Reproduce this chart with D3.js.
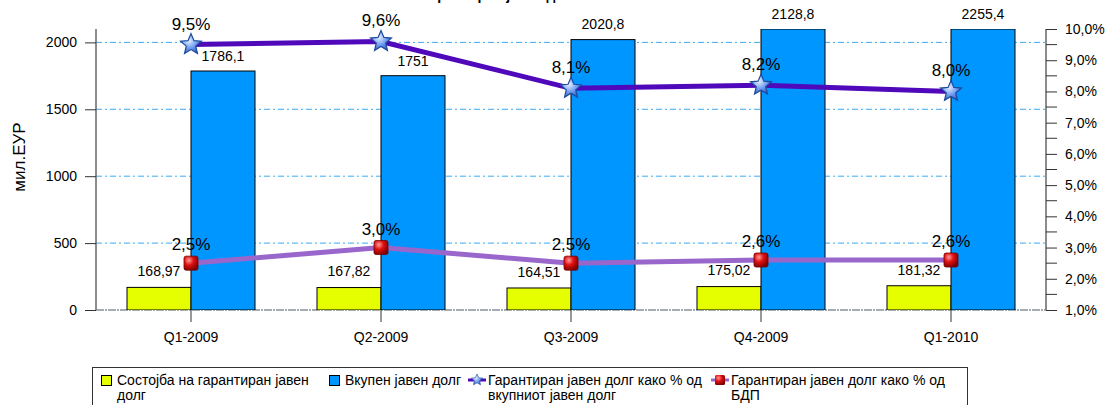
<!DOCTYPE html>
<html>
<head>
<meta charset="utf-8">
<script src="https://cdn.jsdelivr.net/npm/d3@7"></script>
<style>
  body { margin: 0; background: #fff; }
  svg { display: block; font-family: Arial, "Liberation Sans", sans-serif; }
</style>
</head>
<body>
<div id="chart"></div>
<script>
// податоци
const quarters = ["Q1-2009", "Q2-2009", "Q3-2009", "Q4-2009", "Q1-2010"];
const guaranteed = [168.97, 167.82, 164.51, 175.02, 181.32];
const totalDebt = [1786.1, 1751, 2020.8, 2128.8, 2255.4];
const pctOfTotal = [9.5, 9.6, 8.1, 8.2, 8.0];
const pctOfGdp = [2.5, 3.0, 2.5, 2.6, 2.6];
const leftTicks = [0, 500, 1000, 1500, 2000];
const rightTicks = [1, 2, 3, 4, 5, 6, 7, 8, 9, 10];

const width = 1106, height = 405;
const mLeft = 96, mRight = 1046, mTop = 29, mBottom = 310;

const svg = d3.select("#chart").append("svg")
    .attr("width", width)
    .attr("height", height);

const defs = svg.append("defs");
const sg = defs.append("radialGradient").attr("id", "starGrad").attr("cx", "40%").attr("cy", "35%").attr("r", "70%");
sg.append("stop").attr("offset", "0%").attr("stop-color", "#e8f0ff");
sg.append("stop").attr("offset", "55%").attr("stop-color", "#6f9cf0");
sg.append("stop").attr("offset", "100%").attr("stop-color", "#2857b8");
const rg = defs.append("radialGradient").attr("id", "redGrad").attr("cx", "35%").attr("cy", "30%").attr("r", "75%");
rg.append("stop").attr("offset", "0%").attr("stop-color", "#ff9a9a");
rg.append("stop").attr("offset", "45%").attr("stop-color", "#e01010");
rg.append("stop").attr("offset", "100%").attr("stop-color", "#7a0000");
defs.append("clipPath").attr("id", "plotClip")
    .append("rect").attr("x", mLeft).attr("y", mTop).attr("width", mRight - mLeft).attr("height", mBottom - mTop);

// скали
const x = d3.scaleBand().domain(quarters).range([mLeft, mRight]).padding(0);
const xSub = d3.scaleBand().domain(["g", "t"]).range([-64, 64]);
const y = d3.scaleLinear().domain([0, 2100]).range([mBottom, mTop]);
const yR = d3.scaleLinear().domain([1, 10]).range([mBottom, mTop]);
const cx = q => x(q) + x.bandwidth() / 2;
const fmt = v => String(v).replace(".", ",");
const fmtP = v => v.toFixed(1).replace(".", ",") + "%";

// мрежа
svg.append("g").selectAll("line")
    .data(leftTicks.filter(d => d > 0))
    .join("line")
    .attr("x1", mLeft).attr("x2", mRight)
    .attr("y1", d => y(d)).attr("y2", d => y(d))
    .attr("stroke", "#3aaaf5").attr("stroke-width", 1)
    .attr("stroke-dasharray", "6,3,2,3");
svg.append("line")
    .attr("x1", mLeft).attr("x2", mRight).attr("y1", y(0)).attr("y2", y(0))
    .attr("stroke", "#4a5a6a").attr("stroke-width", 1.2)
    .attr("stroke-dasharray", "8,1,2,1");

// столбови
const plot = svg.append("g").attr("clip-path", "url(#plotClip)");
plot.selectAll("rect.g")
    .data(guaranteed)
    .join("rect").attr("class", "g")
    .attr("x", (d, i) => cx(quarters[i]) + xSub("g"))
    .attr("width", xSub.bandwidth())
    .attr("y", d => y(d)).attr("height", d => y(0) - y(d))
    .attr("fill", "#e6ff00").attr("stroke", "#000").attr("stroke-width", 1);
plot.selectAll("rect.t")
    .data(totalDebt)
    .join("rect").attr("class", "t")
    .attr("x", (d, i) => cx(quarters[i]) + xSub("t"))
    .attr("width", xSub.bandwidth())
    .attr("y", d => y(Math.min(d, 2100))).attr("height", d => y(0) - y(Math.min(d, 2100)))
    .attr("fill", "#0096ff").attr("stroke", "#000").attr("stroke-width", 1);

// оски
const yAxis = svg.append("g").attr("transform", `translate(${mLeft},0)`)
    .call(d3.axisLeft(y).tickValues(leftTicks).tickSize(11).tickPadding(8).tickFormat(d => d));
const yAxisR = svg.append("g").attr("transform", `translate(${mRight},0)`)
    .call(d3.axisRight(yR).tickValues(rightTicks).tickSize(11).tickPadding(8).tickFormat(fmtP));
yAxisR.append("g").selectAll("line")
    .data(d3.range(1.5, 10, 1))
    .join("line")
    .attr("x1", 0).attr("x2", 11).attr("y1", d => yR(d)).attr("y2", d => yR(d))
    .attr("stroke", "#333");
const xAxis = svg.append("g").attr("transform", `translate(0,${mBottom})`)
    .call(d3.axisBottom(x).tickSize(12).tickPadding(10));
xAxis.select(".domain").remove();
[yAxis, yAxisR].forEach(a => a.select(".domain").attr("d", `M0,${mTop}V${mBottom}`).attr("stroke", "#666").attr("stroke-width", 1.5));
[yAxis, yAxisR, xAxis].forEach(a => {
    a.selectAll(".tick line").attr("stroke", "#333");
    a.selectAll("text").attr("fill", "#000").style("font-size", "14px").style("font-family", "Arial, 'Liberation Sans', sans-serif");
});

svg.append("text")
    .attr("transform", `translate(25,157) rotate(-90)`)
    .attr("text-anchor", "middle")
    .style("font-size", "17px")
    .text("мил.ЕУР");

// наслов (отсечен горе)
svg.append("text")
    .attr("x", 500).attr("y", 0)
    .attr("text-anchor", "middle")
    .style("font-size", "14px").style("font-weight", "bold")
    .text("Гарантиран јавен долг");

// ознаки на столбовите
svg.append("g").selectAll("text")
    .data(guaranteed)
    .join("text")
    .attr("x", (d, i) => cx(quarters[i]) + xSub("g") + xSub.bandwidth() / 2)
    .attr("y", d => y(d) - 16)
    .attr("dy", "0.35em").attr("text-anchor", "middle")
    .style("font-size", "14px")
    .text(fmt);
svg.append("g").selectAll("text")
    .data(totalDebt)
    .join("text")
    .attr("x", (d, i) => cx(quarters[i]) + xSub("t") + xSub.bandwidth() / 2)
    .attr("y", d => y(Math.min(d, 2100)) - 15)
    .attr("dy", "0.35em").attr("text-anchor", "middle")
    .style("font-size", "14px")
    .text(fmt);

// линии
const starPath = (r1, r2) => {
    let p = "";
    for (let k = 0; k < 10; k++) {
        const r = k % 2 ? r2 : r1;
        const a = -Math.PI / 2 + k * Math.PI / 5;
        p += (k ? "L" : "M") + (r * Math.cos(a)).toFixed(2) + "," + (r * Math.sin(a)).toFixed(2);
    }
    return p + "Z";
};
const line = d3.line().x((d, i) => cx(quarters[i])).y(d => yR(d));

svg.append("path").datum(pctOfGdp)
    .attr("d", line).attr("fill", "none")
    .attr("stroke", "#9966cc").attr("stroke-width", 5);
svg.append("path").datum(pctOfTotal)
    .attr("d", line).attr("fill", "none")
    .attr("stroke", "#5008bb").attr("stroke-width", 5);

svg.append("g").selectAll("path")
    .data(pctOfTotal)
    .join("path")
    .attr("transform", (d, i) => `translate(${cx(quarters[i])},${yR(d)})`)
    .attr("d", starPath(11, 5))
    .attr("fill", "url(#starGrad)").attr("stroke", "#1d4a9e").attr("stroke-width", 1.2);
svg.append("g").selectAll("rect")
    .data(pctOfGdp)
    .join("rect")
    .attr("x", (d, i) => cx(quarters[i]) - 7).attr("y", d => yR(d) - 7)
    .attr("width", 14).attr("height", 14).attr("rx", 2)
    .attr("fill", "url(#redGrad)").attr("stroke", "#700").attr("stroke-width", 0.8);

svg.append("g").selectAll("text")
    .data(pctOfTotal)
    .join("text")
    .attr("x", (d, i) => cx(quarters[i]))
    .attr("y", d => yR(d) - 21)
    .attr("dy", "0.35em").attr("text-anchor", "middle")
    .style("font-size", "17px")
    .text(fmtP);
svg.append("g").selectAll("text")
    .data(pctOfGdp)
    .join("text")
    .attr("x", (d, i) => cx(quarters[i]))
    .attr("y", d => yR(d) - 19)
    .attr("dy", "0.35em").attr("text-anchor", "middle")
    .style("font-size", "17px")
    .text(fmtP);

// легенда
const legend = svg.append("g");
legend.append("rect")
    .attr("x", 92.5).attr("y", 367.5).attr("width", 875).attr("height", 50)
    .attr("fill", "#fff").attr("stroke", "#333");
const items = [
    { x: 101, type: "box", color: "#e6ff00", lines: ["Состојба на гарантиран јавен", "долг"] },
    { x: 329, type: "box", color: "#0096ff", lines: ["Вкупен јавен долг"] },
    { x: 468, type: "star", color: "#5008bb", lines: ["Гарантиран јавен долг како % од", "вкупниот јавен долг"] },
    { x: 711, type: "red", color: "#9966cc", lines: ["Гарантиран јавен долг како % од", "БДП"] }
];
items.forEach(it => {
    const g = legend.append("g");
    let tx;
    if (it.type === "box") {
        g.append("rect").attr("x", it.x + 0.5).attr("y", 375.5).attr("width", 10).attr("height", 10)
            .attr("fill", it.color).attr("stroke", "#000");
        tx = it.x + 16;
    } else {
        g.append("line").attr("x1", it.x).attr("x2", it.x + 18).attr("y1", 380).attr("y2", 380)
            .attr("stroke", it.color).attr("stroke-width", 3);
        if (it.type === "star") {
            g.append("path").attr("transform", `translate(${it.x + 9},380)`).attr("d", starPath(6, 2.8))
                .attr("fill", "url(#starGrad)").attr("stroke", "#1d4a9e").attr("stroke-width", 0.6);
        } else {
            g.append("rect").attr("x", it.x + 4).attr("y", 375).attr("width", 10).attr("height", 10).attr("rx", 1.5)
                .attr("fill", "url(#redGrad)");
        }
        tx = it.x + 20;
    }
    g.append("text").attr("x", tx).attr("y", 385)
        .style("font-size", "14px")
        .selectAll("tspan").data(it.lines).join("tspan")
        .attr("x", tx).attr("dy", (d, i) => i ? 15 : 0)
        .text(d => d);
});
</script>
</body>
</html>
